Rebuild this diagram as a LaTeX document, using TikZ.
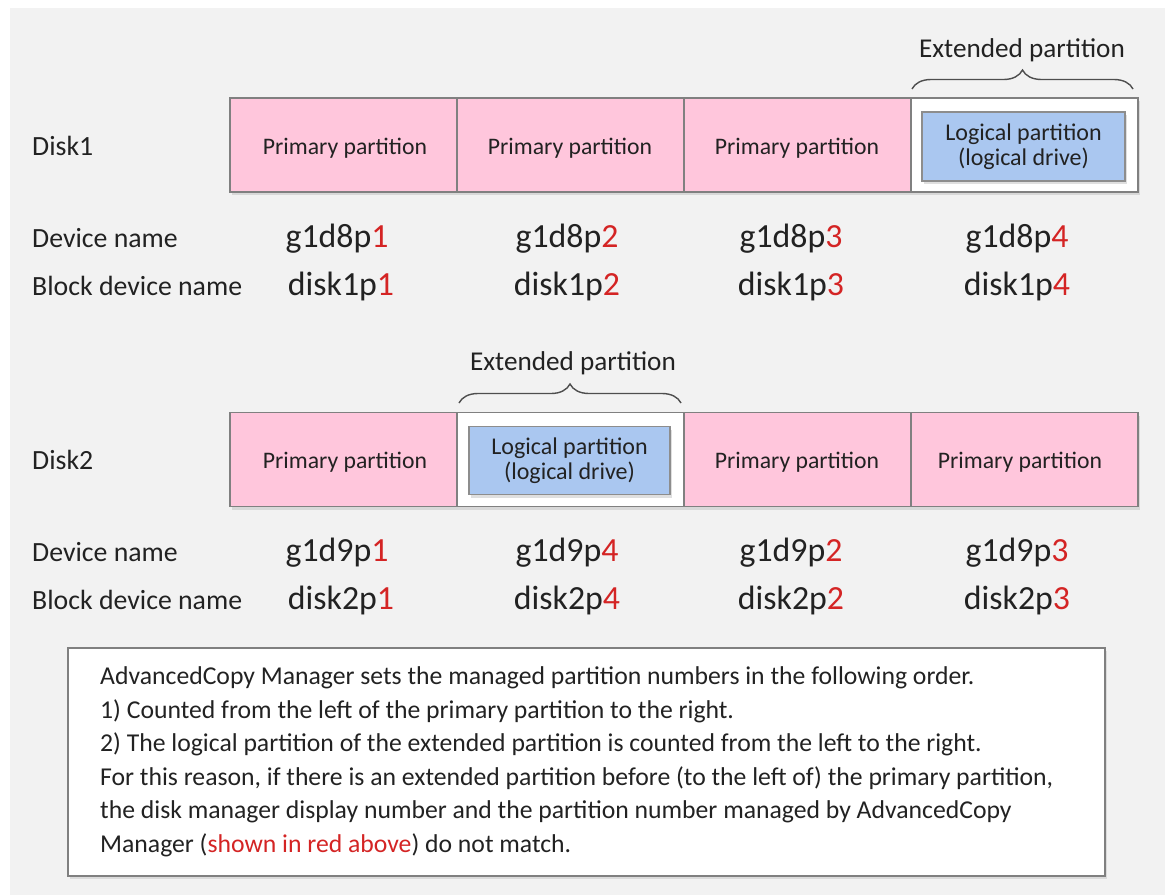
\documentclass[tikz,border=0pt]{standalone}
\usepackage{fontspec}
\setmainfont{Carlito}
\usetikzlibrary{decorations.pathreplacing,shadows}
\definecolor{bggray}{RGB}{242,242,242}
\definecolor{pinkp}{RGB}{255,198,220}
\definecolor{bluel}{RGB}{170,199,240}
\definecolor{edgegray}{RGB}{128,128,128}
\definecolor{redn}{RGB}{212,36,36}
\definecolor{txt}{RGB}{34,34,34}
\newcommand{\rd}[1]{\textcolor{redn}{#1}}
\begin{document}
\begin{tikzpicture}[x=1pt,y=-1pt,
  every node/.style={text=txt},
  lbl/.style={font=\fontsize{27.8}{32}\selectfont, inner sep=0pt, anchor=base west},
  devn/.style={font=\fontsize{33.8}{38}\selectfont, inner sep=0pt, anchor=base},
  bar/.style={draw=edgegray, line width=1.2pt, fill=white, minimum width=908pt, minimum height=94pt, inner sep=0pt,
    drop shadow={opacity=0.22, shadow xshift=2pt, shadow yshift=-3pt}},
  prim/.style={draw=edgegray, line width=1.2pt, fill=pinkp, minimum width=227pt, minimum height=94pt, inner sep=0pt},
  ptxt/.style={font=\fontsize{23.7}{26}\selectfont, inner sep=0pt, anchor=base},
  extp/.style={draw=edgegray, line width=1.2pt, fill=white, minimum width=227pt, minimum height=94pt, inner sep=0pt},
  logp/.style={draw=edgegray!90, line width=1.2pt, fill=bluel, minimum width=203pt, minimum height=69pt, inner sep=0pt,
    align=center, font=\fontsize{24}{25}\selectfont,
    drop shadow={opacity=0.25, shadow xshift=2pt, shadow yshift=-3pt}},
  extlbl/.style={font=\fontsize{27.2}{30}\selectfont, inner sep=0pt, anchor=base},
  brc/.style={decorate, decoration={brace, amplitude=19pt, aspect=0.5}, draw=txt!80, line width=1.4pt},
  notebox/.style={draw=edgegray, line width=2.4pt, fill=white, minimum width=1037pt, minimum height=228pt, inner sep=0pt,
    drop shadow={opacity=0.2, shadow xshift=2pt, shadow yshift=-3pt}},
  note/.style={font=\fontsize{25.7}{29}\selectfont, inner sep=0pt, anchor=base west}
]
\useasboundingbox (0,0) rectangle (1165,895);
\fill[white] (0,0) rectangle (1165,895);
\fill[bggray] (10,8) rectangle (1165,895);

% ---------------- Disk1 ----------------
\node[bar] (bar1) at (684,145) {};
\node[prim] (p11) at (343.5,145) {};
\node[prim] (p12) at (570.5,145) {};
\node[prim] (p13) at (797.5,145) {};
\node[extp] (p14) at (1024.5,145) {};
\node[ptxt] (t11) at (345,154) {Primary partition};
\node[ptxt] (t12) at (570,154) {Primary partition};
\node[ptxt] (t13) at (797,154) {Primary partition};
\node[logp] (l14) at (1023.5,146.5) {Logical partition\\(logical drive)};
\coordinate (b1a) at (912,89);
\coordinate (b1b) at (1133,89);
\draw[brc] (b1a) -- (b1b);
\node[extlbl] (e1) at (1022,57) {Extended partition};

\node[lbl] (disk1) at (32,155) {Disk1};
\node[lbl] (dn1) at (32,247) {Device name};
\node[lbl] (bn1) at (32,295) {Block device name};

\node[devn] (g11) at (337,247) {g1d8p\rd{1}};
\node[devn] (g12) at (567,247) {g1d8p\rd{2}};
\node[devn] (g13) at (791,247) {g1d8p\rd{3}};
\node[devn] (g14) at (1017,247) {g1d8p\rd{4}};
\node[devn] (k11) at (341,295) {disk1p\rd{1}};
\node[devn] (k12) at (567,295) {disk1p\rd{2}};
\node[devn] (k13) at (791,295) {disk1p\rd{3}};
\node[devn] (k14) at (1017,295) {disk1p\rd{4}};

% ---------------- Disk2 ----------------
\node[bar] (bar2) at (684,459.5) {};
\node[prim] (p21) at (343.5,459.5) {};
\node[extp] (p22) at (570.5,459.5) {};
\node[prim] (p23) at (797.5,459.5) {};
\node[prim] (p24) at (1024.5,459.5) {};
\node[ptxt] (t21) at (345,468.5) {Primary partition};
\node[ptxt] (t23) at (797,468.5) {Primary partition};
\node[ptxt] (t24) at (1020,468.5) {Primary partition};
\node[logp, minimum width=201pt, minimum height=68pt] (l22) at (569.5,460.5) {Logical partition\\(logical drive)};
\coordinate (b2a) at (459,403);
\coordinate (b2b) at (681,403);
\draw[brc] (b2a) -- (b2b);
\node[extlbl] (e2) at (573,370) {Extended partition};

\node[lbl] (disk2) at (32,469) {Disk2};
\node[lbl] (dn2) at (32,561) {Device name};
\node[lbl] (bn2) at (32,609) {Block device name};

\node[devn] (g21) at (337,561) {g1d9p\rd{1}};
\node[devn] (g22) at (567,561) {g1d9p\rd{4}};
\node[devn] (g23) at (791,561) {g1d9p\rd{2}};
\node[devn] (g24) at (1017,561) {g1d9p\rd{3}};
\node[devn] (k21) at (341,609) {disk2p\rd{1}};
\node[devn] (k22) at (567,609) {disk2p\rd{4}};
\node[devn] (k23) at (791,609) {disk2p\rd{2}};
\node[devn] (k24) at (1017,609) {disk2p\rd{3}};

% ---------------- Note ----------------
\node[notebox] (nb) at (586.5,762) {};
\node[note] (n1) at (100,684) {AdvancedCopy Manager sets the managed partition numbers in the following order.};
\node[note] (n2) at (100,718) {1) Counted from the left of the primary partition to the right.};
\node[note] (n3) at (100,751) {2) The logical partition of the extended partition is counted from the left to the right.};
\node[note] (n4) at (100,785) {For this reason, if there is an extended partition before (to the left of) the primary partition,};
\node[note] (n5) at (100,818) {the disk manager display number and the partition number managed by AdvancedCopy};
\node[note] (n6) at (100,852) {Manager (\rd{shown in red above}) do not match.};
\end{tikzpicture}
\end{document}
